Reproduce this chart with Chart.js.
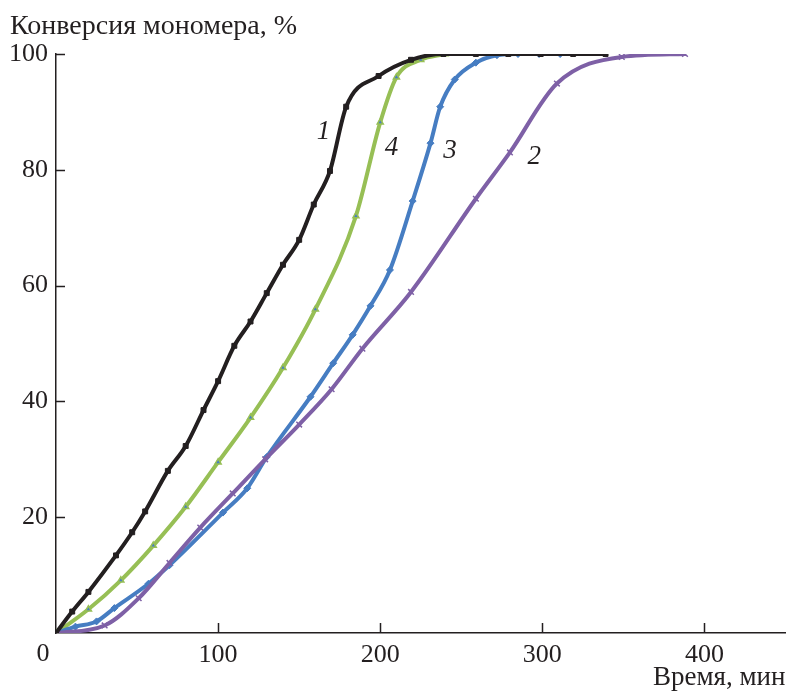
<!DOCTYPE html>
<html>
<head>
<meta charset="utf-8">
<script src="https://cdn.jsdelivr.net/npm/chart.js@4.4.1/dist/chart.umd.min.js"></script>
<style>
html, body { margin: 0; padding: 0; background: #fff; }
</style>
</head>
<body>
<canvas id="chart" width="791" height="691"></canvas>
<script>
// curve 1 (black)
const time1 = [0, 10, 20, 37, 47, 55, 69, 80, 91, 100, 110, 120, 130, 140, 150, 159, 169, 179, 199, 219, 239, 259, 279, 299, 319, 339];
const conv1 = [0, 3.7, 7.1, 13.4, 17.4, 21, 28, 32.3, 38.5, 43.5, 49.6, 53.8, 58.7, 63.6, 67.9, 74, 79.8, 90.9, 96.2, 99, 100, 100, 100, 100, 100, 100];
// curve 2 (purple)
const time2 = [0, 30, 51, 70, 89, 109, 129, 150, 170, 189, 219, 259, 280, 309, 349, 388];
const conv2 = [0, 1.3, 6, 12.1, 18.2, 24.1, 30, 36, 42.1, 49.1, 58.9, 75, 83, 94.9, 99.5, 100];
// curve 3 (blue)
const time3 = [0, 12, 25, 36, 57, 70, 103, 118, 130, 157, 171, 183, 194, 206, 220, 231, 237, 246, 259, 272, 285, 298, 311];
const conv3 = [0, 1.1, 2, 4.3, 8.5, 11.7, 20.8, 25, 30.4, 40.8, 46.6, 51.5, 56.5, 62.7, 74.6, 84.6, 90.9, 95.6, 98.5, 99.8, 100, 100, 100];
// curve 4 (green)
const time4 = [0, 20, 40, 60, 80, 100, 120, 140, 160, 185, 200, 210, 225, 240];
const conv4 = [0, 4.1, 9.1, 15.1, 21.8, 29.5, 37.2, 45.8, 55.9, 72, 88.2, 96, 99, 100];

const xTicks = [100, 200, 300, 400];
const yTicks = [20, 40, 60, 80, 100];

// curve numbers: [text, time, conversion]
const curveLabels = [['1', 165, 86.5], ['4', 207, 83.8], ['3', 243, 83.3], ['2', 295, 82.3]];

const yTitle = 'Конверсия мономера, %';
const ink = '#231f20';
const serif = 'Liberation Serif, Times New Roman, serif';

function pts(xs, ys) {
  return xs.map((x, i) => ({ x: x, y: ys[i] }));
}

const extras = {
  id: 'extras',
  afterDatasetsDraw(chart) {
    const { ctx, scales: { x, y } } = chart;
    ctx.save();
    // inward tick marks
    ctx.strokeStyle = ink;
    ctx.lineWidth = 1.5;
    ctx.beginPath();
    xTicks.forEach(v => {
      const px = Math.round(x.getPixelForValue(v)) + 0.5;
      ctx.moveTo(px, y.bottom);
      ctx.lineTo(px, y.bottom - 10);
    });
    yTicks.forEach(v => {
      const py = Math.round(y.getPixelForValue(v)) + 0.5;
      ctx.moveTo(x.left, py);
      ctx.lineTo(x.left + 9, py);
    });
    ctx.stroke();

    ctx.fillStyle = ink;
    ctx.font = '26px ' + serif;
    ctx.textAlign = 'center';
    ctx.textBaseline = 'middle';
    ctx.fillText('0', x.left - 13, y.bottom + 21);

    // y axis title, top left
    ctx.font = '28px ' + serif;
    ctx.textAlign = 'left';
    ctx.textBaseline = 'alphabetic';
    ctx.fillText(yTitle, 10, 34);

    ctx.font = 'italic 27px ' + serif;
    ctx.textAlign = 'center';
    ctx.textBaseline = 'middle';
    curveLabels.forEach(([s, tx, cy]) => {
      ctx.fillText(s, x.getPixelForValue(tx), y.getPixelForValue(cy));
    });
    ctx.restore();
  }
};

new Chart(document.getElementById('chart'), {
  type: 'line',
  data: {
    datasets: [
      {
        label: '1',
        data: pts(time1, conv1),
        borderColor: ink,
        backgroundColor: ink,
        pointStyle: 'rect',
        pointRadius: 3.5,
      },
      {
        label: '2',
        data: pts(time2, conv2),
        borderColor: '#7e60a6',
        backgroundColor: '#7e60a6',
        pointStyle: 'crossRot',
        pointRadius: 4,
        pointBorderWidth: 1.5,
      },
      {
        label: '3',
        data: pts(time3, conv3),
        borderColor: '#467dc2',
        backgroundColor: '#467dc2',
        pointStyle: 'rectRot',
        pointRadius: 3.5,
      },
      {
        label: '4',
        data: pts(time4, conv4),
        borderColor: '#97bf55',
        backgroundColor: '#467dc2',
        pointStyle: 'triangle',
        pointRadius: 3.5,
        pointBorderWidth: 1.5,
      }
    ]
  },
  options: {
    responsive: false,
    animation: false,
    devicePixelRatio: 1,
    layout: { padding: { left: 0, right: 0, top: 54, bottom: 0 } },
    elements: {
      line: { borderWidth: 4, cubicInterpolationMode: 'monotone', fill: false },
      point: { borderWidth: 1 }
    },
    plugins: {
      legend: { display: false },
      tooltip: { enabled: false },
      title: { display: false }
    },
    scales: {
      x: {
        type: 'linear',
        min: 0,
        max: 450,
        afterFit: s => { s.height = 58; },
        grid: { display: false, drawTicks: false },
        border: { display: true, color: ink, width: 1.5 },
        ticks: {
          stepSize: 100,
          includeBounds: false,
          padding: 7,
          color: ink,
          font: { family: serif, size: 26 },
          callback: v => (v === 0 ? '' : v)
        },
        title: {
          display: true,
          text: 'Время, мин',
          align: 'end',
          color: ink,
          font: { family: serif, size: 27 },
          padding: { top: 0, bottom: -3 }
        }
      },
      y: {
        min: 0,
        max: 100,
        afterFit: s => { s.width = 56; },
        grid: { display: false, drawTicks: false },
        border: { display: true, color: ink, width: 1.5 },
        ticks: {
          stepSize: 20,
          padding: 8,
          color: ink,
          font: { family: serif, size: 26 },
          callback: v => (v === 0 ? '' : v)
        }
      }
    }
  },
  plugins: [extras]
});
</script>
</body>
</html>
